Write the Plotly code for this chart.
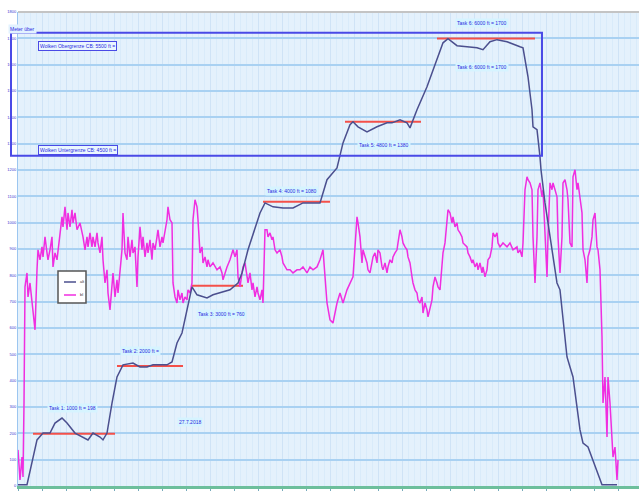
import plotly.graph_objects as go

# ---- altitude series (dark line) ----
alt_t = [0, 9, 19, 25, 32, 37, 44, 49, 57, 64, 70, 75, 82, 85, 89, 94, 99, 105, 115, 122,
         129, 135, 142, 149, 154, 159, 164, 169, 174, 179, 189, 195, 205, 212, 220, 224, 230,
         237, 242, 247, 255, 265, 275, 285, 302, 309, 319, 325, 332, 335, 340, 349, 359, 369,
         374, 382, 389, 392, 395, 399, 409, 419, 425, 430, 439, 449, 459, 465, 472, 479, 489,
         502, 505, 510, 514, 515, 519, 522, 523, 527, 532, 539, 542, 549, 552, 555, 562, 565,
         570, 575, 584, 599]
alt_v = [5, 5, 175, 201, 201, 239, 258, 239, 201, 186, 175, 201, 186, 175, 201, 315, 414, 460,
         467, 452, 452, 460, 460, 460, 471, 543, 581, 669, 756, 726, 714, 726, 737, 745, 771,
         809, 897, 984, 1037, 1075, 1060, 1056, 1056, 1075, 1075, 1163, 1208, 1303, 1372, 1383,
         1364, 1345, 1364, 1379, 1379, 1391, 1379, 1360, 1391, 1429, 1516, 1619, 1683, 1699,
         1672, 1668, 1664, 1657, 1687, 1695, 1687, 1668, 1664, 1554, 1429, 1364, 1353, 1250,
         1201, 1075, 946, 771, 745, 490, 452, 414, 213, 163, 148, 99, 5, 5]

# ---- second series (magenta line) ----
bl_t = [0, 2, 4, 5, 6, 7, 9, 10, 12, 14, 15, 17, 19, 20, 22, 24, 25, 27, 29, 30, 32, 34, 35,
        37, 39, 40, 42, 44, 45, 47, 49, 50, 52, 54, 55, 57, 59, 62, 65, 67, 69, 70, 72, 74, 75,
        77, 79, 80, 82, 84, 85, 87, 89, 90, 92, 94, 95, 97, 99, 100, 102, 104, 105, 107, 109,
        110, 112, 114, 115, 117, 119, 120, 122, 124, 125, 127, 129, 130, 132, 134, 135, 137,
        139, 140, 142, 144, 145, 147, 149, 150, 152, 154, 155, 157, 159, 160, 162, 164, 165,
        167, 169, 170, 172, 174, 175, 177, 179, 180, 182, 184, 185, 187, 189, 190, 192, 195,
        199, 202, 204, 205, 209, 212, 215, 217, 219, 220, 222, 224, 225, 227, 229, 230, 232,
        234, 235, 237, 239, 240, 242, 244, 245, 247, 249, 250, 252, 254, 255, 257, 259, 262,
        264, 265, 269, 272, 275, 279, 282, 285, 289, 292, 295, 299, 302, 305, 309, 312, 315,
        319, 322, 325, 329, 332, 335, 337, 339, 340, 342, 344, 345, 349, 350, 352, 354, 355,
        357, 359, 360, 362, 364, 365, 367, 369, 370, 372, 374, 375, 377, 379, 380, 382, 384,
        385, 387, 389, 390, 392, 394, 395, 397, 399, 400, 402, 404, 405, 407, 409, 410, 412,
        414, 415, 417, 419, 420, 422, 424, 425, 427, 429, 430, 432, 434, 435, 437, 439, 440,
        442, 444, 445, 449, 450, 452, 454, 455, 457, 459, 460, 462, 464, 465, 467, 469, 470,
        472, 474, 475, 477, 479, 480, 482, 485, 489, 492, 495, 499, 500, 502, 504, 505, 507,
        509, 510, 512, 514, 515, 517, 519, 520, 522, 524, 525, 527, 529, 530, 532, 534, 535,
        537, 539, 540, 542, 544, 545, 547, 549, 550, 552, 554, 555, 557, 559, 560, 562, 564,
        565, 567, 569, 570, 572, 574, 575, 577, 579, 580, 582, 584, 585, 587, 589, 590, 592,
        594, 595, 597, 599, 600]
bl_v = [137, 23, 110, 34, 315, 756, 809, 718, 771, 707, 657, 593, 821, 897, 859, 908, 870, 946,
        885, 859, 897, 946, 832, 885, 859, 897, 961, 1022, 984, 1060, 973, 1037, 984, 1049,
        999, 1037, 973, 999, 946, 897, 946, 908, 961, 908, 946, 908, 961, 923, 885, 946, 859,
        771, 821, 733, 669, 756, 809, 718, 783, 733, 821, 897, 1037, 885, 859, 946, 870, 935,
        885, 908, 756, 870, 984, 897, 946, 870, 923, 885, 935, 859, 923, 897, 946, 973, 908,
        946, 923, 961, 1011, 1060, 1011, 999, 771, 718, 695, 745, 707, 733, 695, 718, 707, 745,
        733, 771, 1011, 1087, 1060, 1011, 885, 908, 847, 870, 832, 859, 832, 847, 821, 832,
        809, 783, 832, 859, 897, 870, 897, 794, 756, 809, 832, 847, 794, 771, 809, 745, 771,
        718, 756, 733, 707, 745, 695, 973, 973, 946, 961, 935, 946, 897, 885, 897, 870, 847,
        821, 821, 809, 821, 821, 832, 809, 832, 821, 832, 859, 897, 695, 631, 619, 695, 733,
        695, 745, 771, 794, 908, 1022, 999, 946, 847, 897, 847, 821, 809, 847, 870, 885, 847,
        897, 885, 832, 821, 847, 809, 832, 859, 847, 870, 885, 897, 923, 973, 946, 923, 908,
        897, 870, 847, 794, 771, 745, 733, 707, 695, 718, 657, 695, 669, 642, 680, 707, 756,
        794, 771, 756, 745, 821, 885, 923, 1011, 1049, 1037, 999, 1022, 984, 999, 973, 961,
        946, 923, 908, 885, 870, 847, 859, 832, 847, 821, 847, 809, 832, 794, 821, 859, 870,
        908, 961, 946, 961, 923, 908, 923, 908, 923, 897, 908, 885, 897, 870, 923, 1125, 1174,
        1163, 1151, 1125, 946, 771, 946, 1125, 1151, 1098, 1125, 946, 794, 946, 1151, 1125,
        1151, 1125, 1098, 946, 809, 946, 1151, 1163, 1125, 1087, 923, 908, 1174, 1201, 1125,
        1151, 1098, 1037, 897, 859, 771, 870, 897, 946, 1011, 1037, 908, 897, 821, 566, 315,
        414, 186, 414, 315, 186, 110, 148, 23, 99]

# ---- task reference levels (red lines) ----
task_names = ["Task 1: 1000 ft = 198", "Task 2: 2000 ft =", "Task 3: 3000 ft = 760",
              "Task 4: 4000 ft = 1080", "Task 5: 4800 ft = 1380", "Task 6: 6000 ft = 1700"]
task_level = [198, 456, 760, 1079, 1383, 1699]
task_start = [15, 99, 174, 245, 327, 419]
task_end = [97, 165, 225, 312, 403, 517]
task_label_t = [54, 122, 203, 274, 366, 464]
task_label_v = [296, 513, 654, 1121, 1296, 1759]

cloud_top = 1721
cloud_base = 1254
cloud_texts = ["Wolken Obergrenze CB: 5500 ft =", "Wolken Untergrenze CB: 4500 ft ="]
cloud_label_t = [59, 60]
cloud_label_v = [1672, 1277]

y_ticks = list(range(0, 1900, 100))
date_text = "27.7.2018"

fig = go.Figure()

for i in range(len(task_level)):
    fig.add_trace(go.Scatter(x=[task_start[i], task_end[i]], y=[task_level[i], task_level[i]],
                             mode="lines", line=dict(color="#f4504a", width=2),
                             showlegend=False, hoverinfo="skip"))

fig.add_trace(go.Scatter(x=bl_t, y=bl_v, mode="lines", name="bl",
                         line=dict(color="#f02ee0", width=1.5), showlegend=False))
fig.add_trace(go.Scatter(x=alt_t, y=alt_v, mode="lines", name="alt",
                         line=dict(color="#4b4f8e", width=1.5), showlegend=False))

W, H = 639, 491
ml, mr, mt, mb = 18, 0, 12, 5
pw = W - ml - mr

def px2paper(px):
    return (px - ml) / pw

shapes = []
# cloud box
shapes.append(dict(type="rect", xref="paper", yref="y", x0=px2paper(11), x1=px2paper(542),
                   y0=cloud_base, y1=cloud_top, line=dict(color="#4a4ae6", width=2),
                   fillcolor="rgba(230,245,255,0.0)", layer="above"))
# top border line
shapes.append(dict(type="line", xref="paper", yref="paper", x0=0, x1=1, y0=1, y1=1,
                   line=dict(color="#c4c4c4", width=2)))
# legend box
shapes.append(dict(type="rect", xref="paper", yref="paper", x0=px2paper(58), x1=px2paper(86),
                   y0=(486 - 303) / 474, y1=(486 - 271) / 474,
                   line=dict(color="#555555", width=1.5), fillcolor="white"))
shapes.append(dict(type="line", xref="paper", yref="paper", x0=px2paper(64), x1=px2paper(76),
                   y0=(486 - 282) / 474, y1=(486 - 282) / 474,
                   line=dict(color="#4b4f8e", width=1.5)))
shapes.append(dict(type="line", xref="paper", yref="paper", x0=px2paper(64), x1=px2paper(76),
                   y0=(486 - 295) / 474, y1=(486 - 295) / 474,
                   line=dict(color="#f02ee0", width=1.5)))

annotations = []
fnt = dict(family="Liberation Sans", size=5, color="#2a2ae0")
for i in range(len(task_names)):
    annotations.append(dict(x=task_label_t[i], y=task_label_v[i], xref="x", yref="y",
                            text=task_names[i], showarrow=False, font=fnt,
                            bgcolor="#d6f4ff", borderpad=1))
annotations.append(dict(x=464, y=1592, xref="x", yref="y", text=task_names[5],
                        showarrow=False, font=fnt, bgcolor="#d6f4ff", borderpad=1))
for i in range(2):
    annotations.append(dict(x=cloud_label_t[i], y=cloud_label_v[i], xref="x", yref="y",
                            text=cloud_texts[i], showarrow=False, font=fnt,
                            bgcolor="#eaf6ff", bordercolor="#4a4ae6", borderwidth=1,
                            borderpad=1))
annotations.append(dict(x=172, y=243, xref="x", yref="y", text=date_text, showarrow=False,
                        font=fnt, bgcolor="#d6f4ff", borderpad=1))
annotations.append(dict(x=px2paper(8), y=(486 - 24) / 474, xref="paper", yref="paper",
                        xanchor="left", text="Meter über", showarrow=False, font=fnt,
                        bgcolor="#e2f2ff"))
annotations.append(dict(x=px2paper(78), y=(486 - 282) / 474, xref="paper", yref="paper",
                        xanchor="left", text="alt", showarrow=False,
                        font=dict(family="Liberation Sans", size=4, color="#333333")))
annotations.append(dict(x=px2paper(78), y=(486 - 295) / 474, xref="paper", yref="paper",
                        xanchor="left", text="bl", showarrow=False,
                        font=dict(family="Liberation Sans", size=4, color="#333333")))

fig.update_layout(
    width=W, height=H,
    margin=dict(l=ml, r=mr, t=mt, b=mb),
    paper_bgcolor="white",
    plot_bgcolor="#e4f1fc",
    shapes=shapes,
    annotations=annotations,
    xaxis=dict(range=[0, 621], showticklabels=False, ticks="outside", ticklen=3,
               tickcolor="#7ab", dtick=24, showgrid=True, gridcolor="#cfe3f6", gridwidth=1,
               minor=dict(dtick=6, showgrid=True, gridcolor="#d9ebfa", gridwidth=1),
               showline=True, linecolor="#6dbf9c", linewidth=3, zeroline=False,
               fixedrange=True),
    yaxis=dict(range=[0, 1800], tickvals=y_ticks, ticktext=[str(v) for v in y_ticks],
               tickfont=dict(family="Liberation Sans", size=4, color="#3a3ad0"),
               showgrid=True, gridcolor="#a9d1f2", gridwidth=2, zeroline=False,
               showline=True, linecolor="#9cc6f0", linewidth=1, ticks="", fixedrange=True),
)

fig.write_html("out.html")
